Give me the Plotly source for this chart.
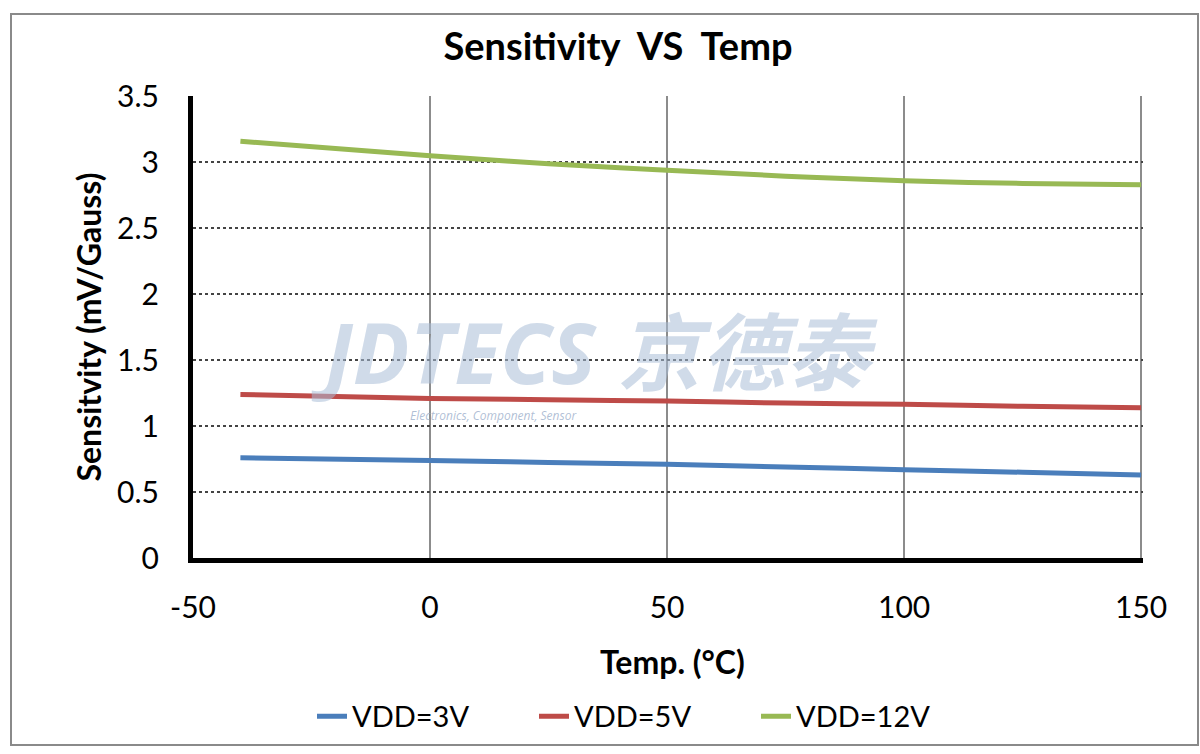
import plotly.graph_objects as go

temps = [-40, 0, 25, 50, 75, 100, 125, 150]
vdd3 = [0.76, 0.74, 0.725, 0.71, 0.69, 0.67, 0.65, 0.63]
vdd5 = [1.24, 1.21, 1.20, 1.19, 1.175, 1.165, 1.15, 1.14]
vdd12 = [3.16, 3.05, 2.99, 2.94, 2.895, 2.86, 2.84, 2.83]
series_names = ["VDD=3V", "VDD=5V", "VDD=12V"]
colors = ["#4a7ebb", "#be4b48", "#98b954"]
x_ticks = [-50, 0, 50, 100, 150]
x_labels = ["-50", "0", "50", "100", "150"]
y_ticks = [0, 0.5, 1, 1.5, 2, 2.5, 3, 3.5]
y_labels = ["0", "0.5", "1", "1.5", "2", "2.5", "3", "3.5"]

W, H = 1200, 754
L, R, T, B = 193, 57, 96, 191
pw, ph = W - L - R, H - T - B

def px(x):
    return (x - L) / pw

def py(y):
    return (H - B - y) / ph

fig = go.Figure()
for name, vals, c in zip(series_names, [vdd3, vdd5, vdd12], colors):
    fig.add_trace(go.Scatter(x=temps, y=vals, mode="lines", name=name,
                             line=dict(color=c, width=5, shape="spline")))

font = "Lato, 'Open Sans', sans-serif"

fig.update_layout(
    width=W, height=H,
    margin=dict(l=L, r=R, t=T, b=B),
    paper_bgcolor="white", plot_bgcolor="white",
    font=dict(family=font, color="black"),
    title=dict(text="<b>Sensitivity  VS  Temp</b>", x=618 / W, xanchor="center",
               y=1 - 47 / H, yanchor="middle", font=dict(size=38, family=font)),
    xaxis=dict(range=[-50, 150.4], tickvals=x_ticks, ticktext=x_labels, ticks="", showline=True,
               linecolor="black", linewidth=5, showgrid=True, gridcolor="#8c8c8c",
               gridwidth=2, zeroline=False, tickfont=dict(size=30), ticklabelstandoff=19),
    yaxis=dict(range=[0, 3.503], tickvals=y_ticks, ticktext=y_labels,
               ticks="", showline=True, linecolor="black", linewidth=5, showgrid=True,
               gridcolor="#444444", gridwidth=2, griddash="dot", zeroline=False,
               tickfont=dict(size=30), ticklabelstandoff=23),
    legend=dict(orientation="h", x=px(312), xanchor="left",
                y=py(723), yanchor="middle", font=dict(size=29),
                entrywidth=177, entrywidthmode="pixels",
                bgcolor="rgba(0,0,0,0)"),
    showlegend=True,
)

# axis titles
fig.add_annotation(text="<b>Temp. (°C)</b>", xref="paper", yref="paper",
                   x=px(672), y=py(668), xanchor="center", yanchor="middle",
                   showarrow=False, font=dict(size=32, family=font))
fig.add_annotation(text="<b>Sensitvity (mV/Gauss)</b>", xref="paper", yref="paper",
                   x=px(88), y=py(330), xanchor="center", yanchor="middle",
                   showarrow=False, textangle=-90, font=dict(size=32, family=font))

# outer frame
fig.add_shape(type="rect", xref="paper", yref="paper",
              x0=px(11), x1=px(1198), y0=py(752), y1=py(13),
              line=dict(color="#8a8a8a", width=2), layer="below")

# watermark
fig.add_annotation(text="<b><i>JDTECS 京德泰</i></b>", xref="paper", yref="paper",
                   x=px(594), y=py(354), xanchor="center", yanchor="middle", showarrow=False,
                   font=dict(size=84, color="rgba(170,190,215,0.55)",
                             family="'Open Sans', 'Noto Sans CJK SC', sans-serif"))
fig.add_annotation(text="<i>Electronics, Component, Sensor</i>", xref="paper", yref="paper",
                   x=px(493), y=py(419), xanchor="center", yanchor="middle", showarrow=False,
                   font=dict(size=12, color="rgba(150,170,200,0.75)", family="'Open Sans', sans-serif"))

fig.write_html("out.html")
